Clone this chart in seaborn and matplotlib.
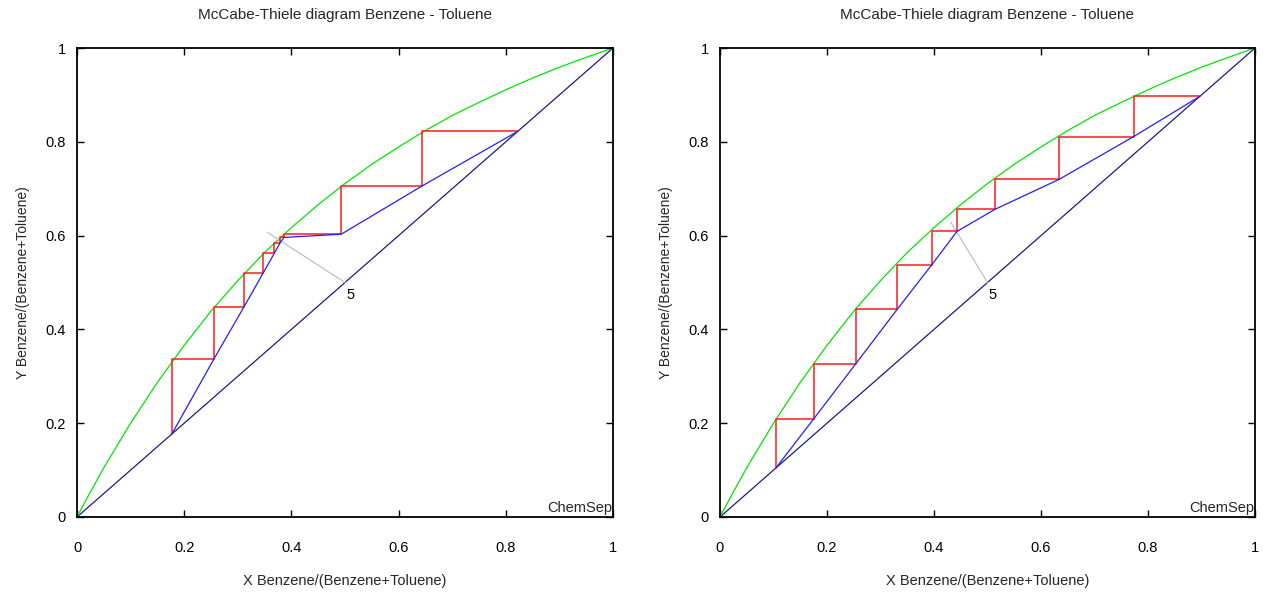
import numpy as np
import pandas as pd
import matplotlib
matplotlib.use("Agg")
import matplotlib.pyplot as plt
import seaborn as sns

sns.set_theme(style="white")
plt.rcParams["font.family"] = ["Liberation Sans", "DejaVu Sans"]

# Vapour-liquid equilibrium curve, benzene mole fraction (x liquid, y vapour)
eq_x = [0.0, 0.02, 0.05, 0.10, 0.15, 0.20, 0.25, 0.30, 0.35, 0.40, 0.45,
        0.50, 0.55, 0.60, 0.65, 0.70, 0.75, 0.80, 0.85, 0.90, 0.95, 1.0]
eq_y = [0.0, 0.043, 0.105, 0.200, 0.287, 0.366, 0.439, 0.504, 0.564, 0.617, 0.666,
        0.711, 0.752, 0.789, 0.824, 0.856, 0.884, 0.911, 0.936, 0.959, 0.980, 1.0]

# Column A: stage liquid / vapour compositions, top stage first
stage_x_a = [0.644, 0.493, 0.386, 0.379, 0.368, 0.347, 0.3115, 0.255, 0.177]
stage_y_a = [0.822, 0.706, 0.603, 0.596, 0.585, 0.562, 0.5195, 0.448, 0.336]
feed_line_a = ([0.50, 0.355], [0.50, 0.607])

# Column B: stage liquid / vapour compositions, top stage first
stage_x_b = [0.773, 0.634, 0.514, 0.443, 0.396, 0.331, 0.254, 0.175, 0.1045]
stage_y_b = [0.897, 0.811, 0.720, 0.656, 0.609, 0.538, 0.4425, 0.327, 0.209]
feed_line_b = ([0.50, 0.431], [0.50, 0.629])

feed_stage = "5"
feed_label_pos = (0.51, 0.474)

tick_vals = [0, 0.2, 0.4, 0.6, 0.8, 1]
tick_labels = ["0", "0.2", "0.4", "0.6", "0.8", "1"]

title = "McCabe-Thiele diagram Benzene - Toluene"
xlabel = "X Benzene/(Benzene+Toluene)"
ylabel = "Y Benzene/(Benzene+Toluene)"


def staircase(sx, sy):
    """Stage-by-stage construction from the distillate down to the bottoms."""
    xs = [sy[0]]
    ys = [sy[0]]
    for i in range(len(sx)):
        xs.append(sx[i]); ys.append(sy[i])
        nxt = sy[i + 1] if i + 1 < len(sy) else sx[i]
        xs.append(sx[i]); ys.append(nxt)
    return pd.DataFrame({"x": xs, "y": ys})


def operating_line(sx, sy):
    xs = [sy[0]] + list(sx)
    ys = [sy[0]] + list(sy[1:]) + [sx[-1]]
    return pd.DataFrame({"x": xs, "y": ys})


def draw_panel(ax, sx, sy, feed):
    lw = 0.9
    diag = pd.DataFrame({"x": [0, 1], "y": [0, 1]})
    sns.lineplot(data=diag, x="x", y="y", ax=ax, color="#1a1a8c", lw=lw,
                 sort=False, estimator=None)
    eq = pd.DataFrame({"x": eq_x, "y": eq_y})
    sns.lineplot(data=eq, x="x", y="y", ax=ax, color="#00e600", lw=lw,
                 sort=False, estimator=None)
    fl = pd.DataFrame({"x": feed[0], "y": feed[1]})
    sns.lineplot(data=fl, x="x", y="y", ax=ax, color="#c0c0c0", lw=lw,
                 sort=False, estimator=None)
    sns.lineplot(data=staircase(sx, sy), x="x", y="y", ax=ax, color="#ff1a1a",
                 lw=1.1, sort=False, estimator=None)
    sns.lineplot(data=operating_line(sx, sy), x="x", y="y", ax=ax,
                 color="#1f1fff", lw=lw, sort=False, estimator=None)

    ax.text(feed_label_pos[0], feed_label_pos[1], feed_stage, fontsize=10.5,
            ha="center", va="center", color="black")
    ax.text(0.998, 0.004, "ChemSep", transform=ax.transAxes, fontsize=10.5,
            ha="right", va="bottom")

    ax.set_xlim(0, 1)
    ax.set_ylim(0, 1)
    ax.set_xticks(tick_vals)
    ax.set_xticklabels(tick_labels)
    ax.set_yticks(tick_vals)
    ax.set_yticklabels(tick_labels)
    ax.tick_params(axis="x", direction="in", top=True, bottom=True, length=5,
                   width=1, pad=17, labelsize=10.5, colors="black")
    ax.tick_params(axis="y", direction="in", left=True, right=True, length=5,
                   width=1, pad=8, labelsize=10.5, colors="black")
    for s in ax.spines.values():
        s.set_visible(True)
        s.set_color("black")
        s.set_linewidth(1.3)
    ax.set_title(title, fontsize=11, pad=21)
    ax.set_xlabel(xlabel, fontsize=10.5, labelpad=14)
    ax.set_ylabel(ylabel, fontsize=10, labelpad=11)
    ax.grid(False)


fig = plt.figure(figsize=(12.63, 5.94), dpi=100)
fig.patch.set_facecolor("white")
ax1 = fig.add_axes([77 / 1263, 77 / 594, 536 / 1263, 469 / 594])
ax2 = fig.add_axes([720 / 1263, 77 / 594, 535 / 1263, 469 / 594])

draw_panel(ax1, stage_x_a, stage_y_a, feed_line_a)
draw_panel(ax2, stage_x_b, stage_y_b, feed_line_b)

fig.savefig("out.png", dpi=100, facecolor="white")
